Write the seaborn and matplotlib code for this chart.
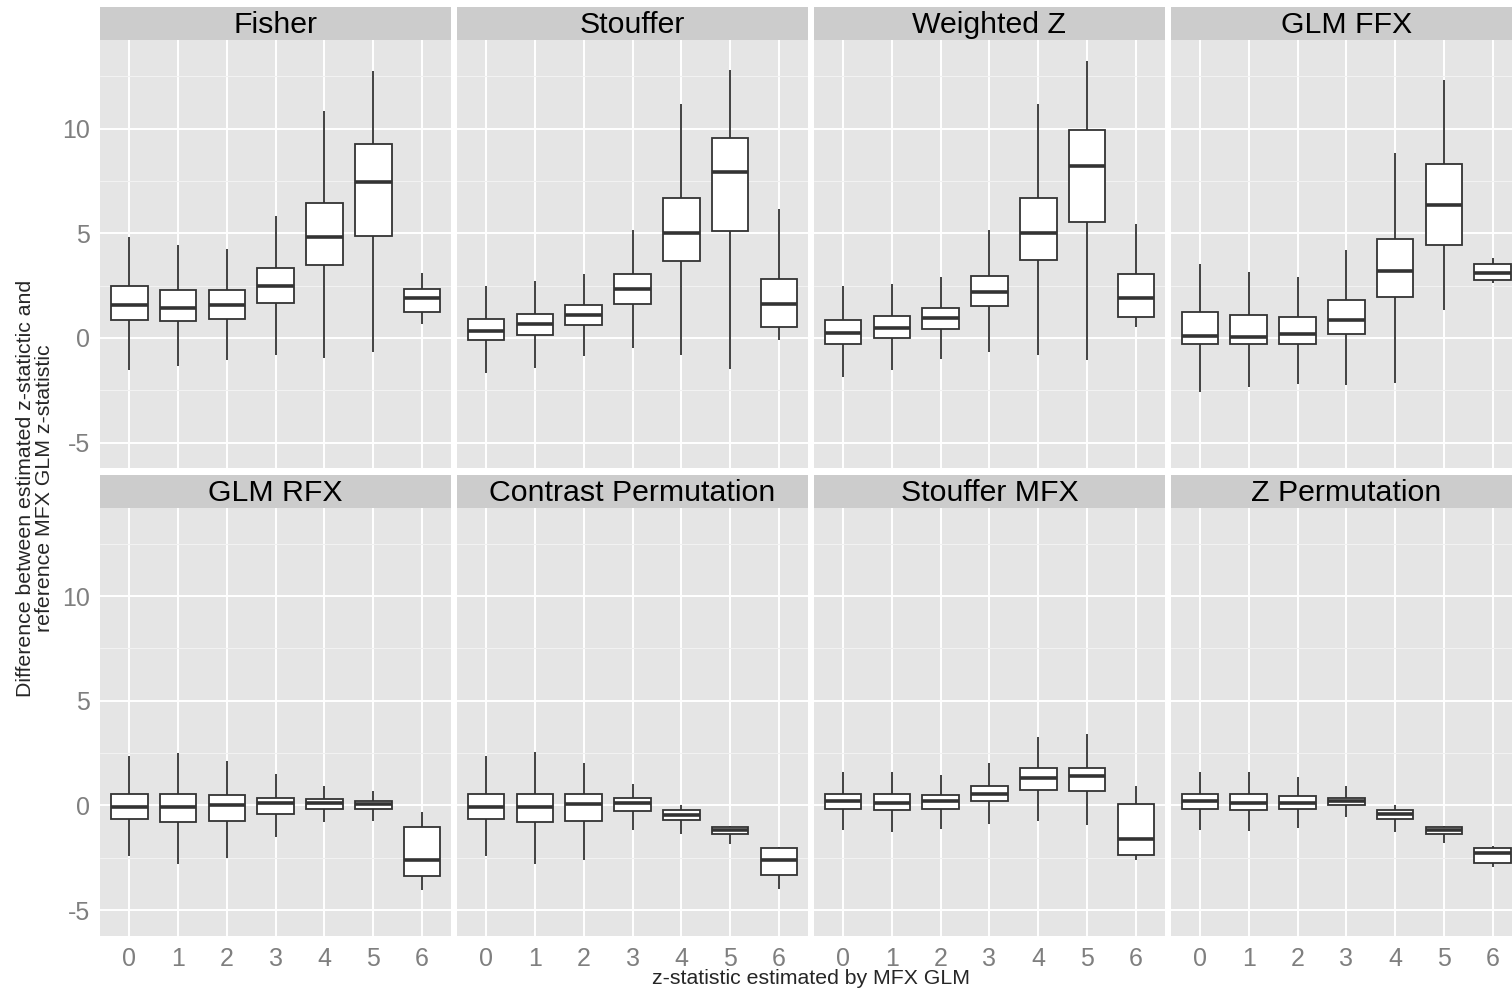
import numpy as np
import pandas as pd
import seaborn as sns
import matplotlib.pyplot as plt

methods = ["Fisher", "Stouffer", "Weighted Z", "GLM FFX",
           "GLM RFX", "Contrast Permutation", "Stouffer MFX", "Z Permutation"]
z_levels = [0, 1, 2, 3, 4, 5, 6]

# per z level: [lower whisker, Q1, median, Q3, upper whisker]
fisher = [[-1.51, 0.84, 1.59, 2.47, 4.82],
          [-1.35, 0.81, 1.45, 2.27, 4.42],
          [-1.07, 0.92, 1.57, 2.27, 4.26],
          [-0.80, 1.67, 2.48, 3.34, 5.81],
          [-0.94, 3.50, 4.82, 6.46, 10.83],
          [-0.67, 4.85, 7.44, 9.24, 12.77],
          [0.68, 1.24, 1.92, 2.35, 3.10]]
stouffer = [[-1.65, -0.11, 0.33, 0.92, 2.48],
            [-1.43, 0.13, 0.65, 1.16, 2.70],
            [-0.87, 0.60, 1.11, 1.59, 3.04],
            [-0.48, 1.64, 2.35, 3.04, 5.14],
            [-0.80, 3.67, 5.01, 6.68, 11.15],
            [-1.46, 5.11, 7.92, 9.56, 12.81],
            [-0.11, 0.52, 1.61, 2.80, 6.14]]
weighted_z = [[-1.86, -0.27, 0.25, 0.84, 2.48],
              [-1.54, 0.00, 0.49, 1.05, 2.59],
              [-0.99, 0.45, 0.95, 1.45, 2.91],
              [-0.67, 1.51, 2.20, 2.96, 5.14],
              [-0.80, 3.71, 5.03, 6.70, 11.18],
              [-1.07, 5.54, 8.21, 9.91, 13.25],
              [0.52, 1.00, 1.91, 3.04, 5.42]]
glm_ffx = [[-2.58, -0.27, 0.08, 1.24, 3.55],
           [-2.34, -0.27, 0.05, 1.11, 3.15],
           [-2.21, -0.30, 0.21, 1.00, 2.91],
           [-2.26, 0.17, 0.84, 1.80, 4.22],
           [-2.15, 1.96, 3.20, 4.71, 8.83],
           [1.35, 4.45, 6.33, 8.29, 12.33],
           [2.62, 2.78, 3.10, 3.52, 3.82]]
glm_rfx = [[-2.43, -0.65, -0.05, 0.56, 2.37],
           [-2.78, -0.79, -0.05, 0.56, 2.50],
           [-2.51, -0.72, 0.02, 0.49, 2.13],
           [-1.51, -0.40, 0.11, 0.38, 1.49],
           [-0.79, -0.16, 0.11, 0.30, 0.91],
           [-0.72, -0.17, 0.08, 0.21, 0.70],
           [-4.05, -3.35, -2.59, -1.03, -0.29]]
contrast_perm = [[-2.43, -0.65, -0.05, 0.56, 2.34],
                 [-2.78, -0.79, -0.05, 0.56, 2.54],
                 [-2.59, -0.72, 0.08, 0.56, 2.05],
                 [-1.19, -0.25, 0.14, 0.35, 1.03],
                 [-1.35, -0.68, -0.45, -0.24, 0.03],
                 [-1.84, -1.37, -1.16, -1.03, -1.00],
                 [-3.99, -3.34, -2.59, -2.03, -1.96]]
stouffer_mfx = [[-1.19, -0.16, 0.19, 0.56, 1.59],
                [-1.27, -0.21, 0.14, 0.54, 1.59],
                [-1.13, -0.16, 0.19, 0.51, 1.46],
                [-0.89, 0.19, 0.56, 0.94, 2.05],
                [-0.73, 0.75, 1.30, 1.78, 3.29],
                [-0.92, 0.70, 1.41, 1.78, 3.42],
                [-2.62, -2.38, -1.61, 0.08, 0.95]]
z_perm = [[-1.19, -0.16, 0.19, 0.55, 1.61],
          [-1.23, -0.21, 0.14, 0.54, 1.58],
          [-1.08, -0.16, 0.14, 0.47, 1.38],
          [-0.55, 0.00, 0.22, 0.38, 0.93],
          [-1.27, -0.65, -0.41, -0.21, 0.03],
          [-1.79, -1.34, -1.16, -1.03, -1.00],
          [-2.93, -2.74, -2.26, -2.03, -1.95]]

summaries = [fisher, stouffer, weighted_z, glm_ffx,
             glm_rfx, contrast_perm, stouffer_mfx, z_perm]

rows = []
for m, summ in zip(methods, summaries):
    for z, five in zip(z_levels, summ):
        for v in five:
            rows.append((m, z, v))
df = pd.DataFrame(rows, columns=["method", "z", "diff"])

sns.set_style("white")
plt.rcParams['font.family'] = ['Liberation Sans', 'DejaVu Sans']
plt.rcParams['axes.unicode_minus'] = False

W, H = 1512, 990
fig = plt.figure(figsize=(W / 100, H / 100), dpi=100)

col_x = [100 + c * 356.9 for c in range(4)]
pw = 351.3
panel_top = [40, 507.5]
ph = 428
strip_h = 33

for i, m in enumerate(methods):
    r, c = divmod(i, 4)
    x0 = col_x[c]
    y0 = panel_top[r]
    ax = fig.add_axes([x0 / W, 1 - (y0 + ph) / H, pw / W, ph / H])
    sns.boxplot(data=df[df.method == m], x="z", y="diff", order=z_levels,
                whis=np.inf, width=0.75, color="white", saturation=1,
                linecolor="#333333", linewidth=1.3, showcaps=False,
                fliersize=0, medianprops=dict(linewidth=2.6, color="#333333"),
                ax=ax)
    ax.set_facecolor("#E5E5E5")
    ax.set_xlim(-0.6, 6.6)
    ax.set_ylim(-6.21, 14.23)
    ax.set_yticks([-5, 0, 5, 10])
    ax.set_yticks([-2.5, 2.5, 7.5, 12.5], minor=True)
    ax.set_axisbelow(True)
    ax.grid(which="major", color="white", linewidth=1.4)
    ax.grid(which="minor", axis="y", color="#F2F2F2", linewidth=0.8)
    for s in ax.spines.values():
        s.set_visible(False)
    ax.set_xlabel("")
    ax.set_ylabel("")
    ax.tick_params(which="major", colors="#7F7F7F", labelcolor="#7F7F7F",
                   length=4, width=1, labelsize=18, pad=3)
    ax.tick_params(axis="x", pad=4)
    ax.tick_params(which="minor", length=0)
    if c != 0:
        ax.tick_params(axis="y", left=False, labelleft=False)
    if r == 0:
        ax.tick_params(axis="x", bottom=False, labelbottom=False)

    sax = fig.add_axes([x0 / W, 1 - y0 / H, pw / W, strip_h / H])
    sax.set_facecolor("#CCCCCC")
    sax.set_xticks([])
    sax.set_yticks([])
    for s in sax.spines.values():
        s.set_visible(False)
    sax.text(0.5, 0.45, m, ha="center", va="center", fontsize=21.8,
             color="black", transform=sax.transAxes)

fig.text(811 / W, 1 - 979 / H, "z-statistic estimated by MFX GLM",
         ha="center", va="center", fontsize=15.3)
fig.text(35 / W, 1 - 488 / H,
         "Difference between estimated z-statictic and\nreference MFX GLM z-statistic",
         ha="center", va="center", rotation=90, fontsize=15.3, linespacing=0.95)

fig.savefig("out.png", dpi=100)
